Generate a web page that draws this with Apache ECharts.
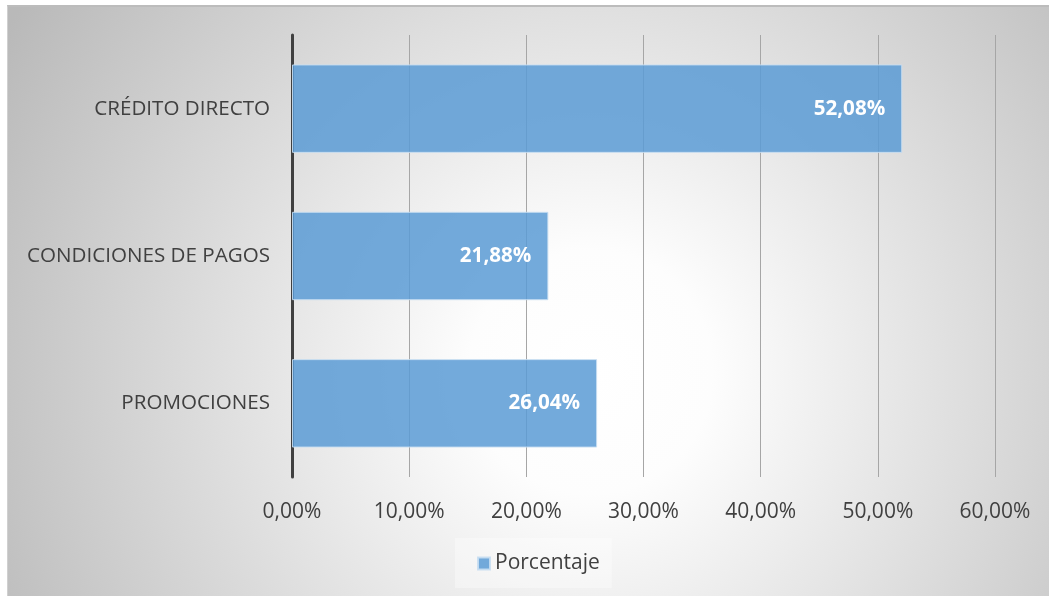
<!DOCTYPE html>
<html>
<head>
<meta charset="utf-8">
<script src="https://cdn.jsdelivr.net/npm/echarts@6/dist/echarts.min.js"></script>
<style>
html,body{margin:0;padding:0;background:#ffffff;width:1049px;height:596px;overflow:hidden;}
#chart{position:absolute;left:7px;top:5px;width:1042px;height:591px;border-top:2px solid #bcbcbc;border-left:1px solid #d0d0d0;box-sizing:border-box;}
</style>
</head>
<body>
<div id="chart"></div>
<script>
var categories = ['CRÉDITO DIRECTO', 'CONDICIONES DE PAGOS', 'PROMOCIONES'];
var values = [52.08, 21.88, 26.04];
var seriesName = 'Porcentaje';
var axisMin = 0, axisMax = 60, axisStep = 10;

function pct(v){ return v.toFixed(2).replace('.', ',') + '%'; }

var FONT = '"Open Sans", Lato, sans-serif';
var chart = echarts.init(document.getElementById('chart'));
chart.setOption({
  backgroundColor: {
    type: 'radial', x: 0.56, y: 0.62, r: 1.15,
    colorStops: [
      {offset: 0, color: '#ffffff'},
      {offset: 0.18, color: '#fdfdfd'},
      {offset: 1, color: '#b9b9b9'}
    ]
  },
  textStyle: {fontFamily: FONT},
  animation: false,
  grid: {left: 284, right: 54, top: 28, bottom: 119, containLabel: false},
  legend: {
    data: [seriesName],
    left: 447, top: 531,
    itemWidth: 12, itemHeight: 12, itemGap: 6,
    padding: [15, 12, 14, 22],
    backgroundColor: 'rgba(255,255,255,0.35)',
    textStyle: {fontSize: 21, color: '#404040', fontFamily: FONT},
    icon: 'rect'
  },
  xAxis: {
    type: 'value', min: axisMin, max: axisMax, interval: axisStep,
    axisLine: {show: false},
    axisTick: {show: false},
    splitLine: {show: true, lineStyle: {color: '#a6a6a6', width: 1}},
    axisLabel: {
      formatter: function(v){ return pct(v); },
      fontSize: 21, color: '#404040', margin: 25
    }
  },
  yAxis: {
    type: 'category', data: categories, inverse: true,
    axisLine: {show: true, lineStyle: {color: '#404040', width: 3}},
    axisTick: {show: false},
    axisLabel: {fontSize: 20.6, color: '#404040', margin: 22}
  },
  series: [{
    name: seriesName,
    type: 'bar',
    data: values,
    barCategoryGap: '40%',
    itemStyle: {
      color: 'rgba(91,155,213,0.85)',
      borderColor: 'rgba(200,222,242,0.9)',
      borderWidth: 1
    },
    label: {
      show: true, position: 'insideRight', distance: 17,
      formatter: function(p){ return pct(p.value); },
      color: '#ffffff', fontWeight: 'bold', fontSize: 20.6,
      fontFamily: FONT
    }
  }]
});
</script>
</body>
</html>
